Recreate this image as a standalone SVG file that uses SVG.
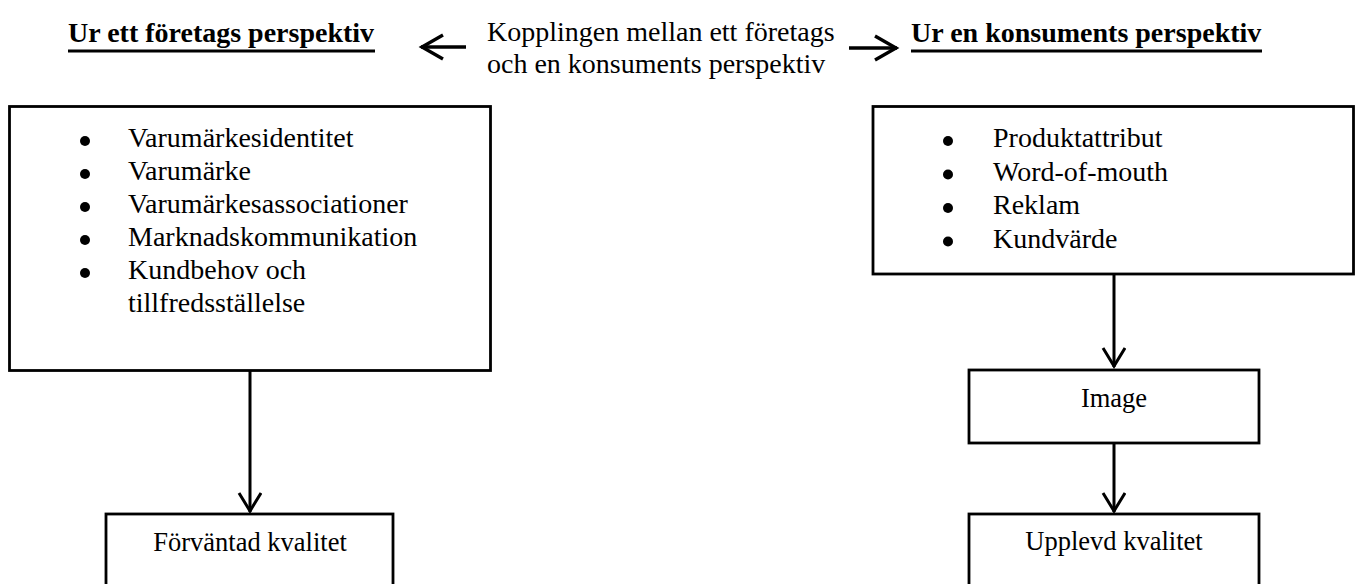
<svg xmlns="http://www.w3.org/2000/svg" width="1359" height="584" viewBox="0 0 1359 584">
<style>
text{font-family:"Liberation Serif","Times New Roman",serif;fill:#000}
.h{font-size:28px;font-weight:bold}
.t{font-size:28px}
.l{font-size:26.5px;text-anchor:middle}
.box{fill:#fff;stroke:#000;stroke-width:2.8}
.ul{stroke:#000;stroke-width:2.8}
.c{stroke:#000;stroke-width:3;fill:none}
.ta{stroke:#000;stroke-width:3.4;fill:none}
.b{fill:#000}
</style>
<defs>
<marker id="chev" markerUnits="userSpaceOnUse" markerWidth="26" markerHeight="28" refX="21" refY="12" orient="auto" viewBox="0 0 26 28">
<path d="M2,1 L20,12 L2,23" fill="none" stroke="#000" stroke-width="3"/>
</marker>
<marker id="chev2" markerUnits="userSpaceOnUse" markerWidth="30" markerHeight="30" refX="24" refY="14" orient="auto" viewBox="0 0 30 30">
<path d="M2,2 L23,14 L2,26" fill="none" stroke="#000" stroke-width="3.4"/>
</marker>
</defs>
<g id="header-left">
<text class="h" x="68" y="42">Ur ett företags perspektiv</text>
<line class="ul" x1="68" y1="51" x2="375" y2="51"/>
</g>
<g id="header-center">
<text class="t" x="487" y="41">Kopplingen mellan ett företags</text>
<text class="t" x="487" y="73">och en konsuments perspektiv</text>
</g>
<g id="header-right">
<text class="h" x="911" y="42">Ur en konsuments perspektiv</text>
<line class="ul" x1="911" y1="51" x2="1262" y2="51"/>
</g>
<g id="box-company">
<rect class="box" x="9.5" y="106.5" width="481" height="264"/>
<circle class="b" cx="85" cy="141" r="5"/>
<circle class="b" cx="85" cy="174" r="5"/>
<circle class="b" cx="85" cy="207" r="5"/>
<circle class="b" cx="85" cy="240" r="5"/>
<circle class="b" cx="85" cy="273" r="5"/>
<text class="t" x="128" y="147">Varumärkesidentitet</text>
<text class="t" x="128" y="180">Varumärke</text>
<text class="t" x="128" y="213">Varumärkesassociationer</text>
<text class="t" x="128" y="246">Marknadskommunikation</text>
<text class="t" x="128" y="279">Kundbehov och</text>
<text class="t" x="128" y="312">tillfredsställelse</text>
</g>
<g id="box-consumer">
<rect class="box" x="873" y="106.5" width="480.5" height="167.5"/>
<circle class="b" cx="948" cy="141" r="5"/>
<circle class="b" cx="948" cy="174.5" r="5"/>
<circle class="b" cx="948" cy="208" r="5"/>
<circle class="b" cx="948" cy="241.5" r="5"/>
<text class="t" x="993" y="147">Produktattribut</text>
<text class="t" x="993" y="180.5">Word-of-mouth</text>
<text class="t" x="993" y="214">Reklam</text>
<text class="t" x="993" y="247.5">Kundvärde</text>
</g>
<g id="box-image">
<rect class="box" x="969" y="370" width="290" height="73"/>
<text class="l" x="1114" y="407">Image</text>
</g>
<g id="box-expected">
<rect class="box" x="106" y="514" width="287" height="100"/>
<text class="l" x="250" y="551">Förväntad kvalitet</text>
</g>
<g id="box-perceived">
<rect class="box" x="969" y="514" width="290" height="100"/>
<text class="l" x="1114" y="550">Upplevd kvalitet</text>
</g>
<g id="connectors">
<line class="ta" x1="466" y1="47" x2="421" y2="47" marker-end="url(#chev2)"/>
<line class="ta" x1="849" y1="48" x2="897" y2="48" marker-end="url(#chev2)"/>
<line class="c" x1="250" y1="371" x2="250" y2="512" marker-end="url(#chev)"/>
<line class="c" x1="1114" y1="274" x2="1114" y2="367" marker-end="url(#chev)"/>
<line class="c" x1="1114" y1="443" x2="1114" y2="512" marker-end="url(#chev)"/>
</g>
</svg>
